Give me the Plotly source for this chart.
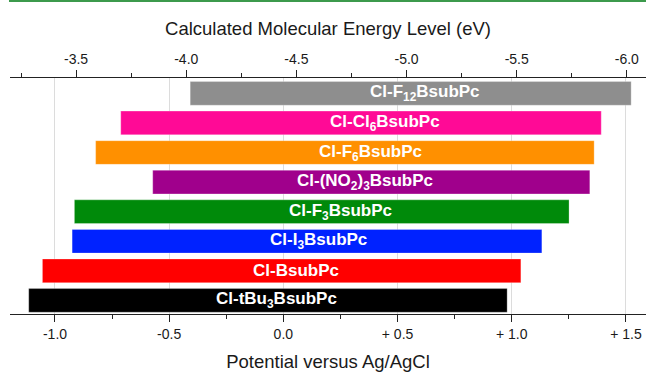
import plotly.graph_objects as go

# Compounds, listed bottom to top
compounds = ["Cl-tBu<sub>3</sub>BsubPc", "Cl-BsubPc", "Cl-I<sub>3</sub>BsubPc",
             "Cl-F<sub>3</sub>BsubPc", "Cl-(NO<sub>2</sub>)<sub>3</sub>BsubPc",
             "Cl-F<sub>6</sub>BsubPc", "Cl-Cl<sub>6</sub>BsubPc", "Cl-F<sub>12</sub>BsubPc"]
# Reduction (left end) and oxidation (right end) potentials, V vs Ag/AgCl
reduction = [-1.115, -1.055, -0.925, -0.915, -0.572, -0.822, -0.712, -0.408]
oxidation = [0.98, 1.04, 1.132, 1.251, 1.342, 1.361, 1.392, 1.523]
# Label anchor positions along the potential axis
label_pos = [-0.028, 0.055, 0.152, 0.252, 0.356, 0.381, 0.445, 0.621]
colors = ["#000000", "#ff0000", "#0022ff", "#008a0a", "#a0008c",
          "#ff9000", "#ff0a96", "#8e8e8e"]

pot_ticks = [-1.0, -0.5, 0.0, 0.5, 1.0, 1.5]
pot_labels = ["-1.0", "-0.5", "0.0", "+ 0.5", "+ 1.0", "+ 1.5"]
pot_minor = [-0.75, -0.25, 0.25, 0.75, 1.25]
energy_ticks = [-3.5, -4.0, -4.5, -5.0, -5.5, -6.0]
energy_labels = ["-3.5", "-4.0", "-4.5", "-5.0", "-5.5", "-6.0"]
energy_minor = [-3.25, -3.75, -4.25, -4.75, -5.25, -5.75]

ypos = list(range(len(compounds)))
widths = [o - r for o, r in zip(oxidation, reduction)]

fig = go.Figure()
fig.add_trace(go.Bar(
    y=ypos, x=widths, base=reduction, orientation="h",
    marker=dict(color=colors, line=dict(color="rgba(255,255,255,0.35)", width=0.8)),
    width=0.8, showlegend=False, hoverinfo="skip",
))
# invisible trace so the energy axis on top is drawn
fig.add_trace(go.Scatter(x=[-3.5, -6.0], y=[0, 0], xaxis="x2", mode="markers",
                         marker=dict(opacity=0), showlegend=False, hoverinfo="skip"))

for y, txt, xp in zip(ypos, compounds, label_pos):
    fig.add_annotation(x=xp, y=y, xref="x", yref="y", text=txt, showarrow=False,
                       font=dict(family="Liberation Sans, Arial", size=17, color="white",
                                 weight="bold"))

axis_font = dict(family="Liberation Sans, Arial", size=14, color="#1a1a1a")
title_font = dict(family="Liberation Sans, Arial", size=18.5, color="#1a1a1a")
fig.update_layout(
    width=646, height=373,
    margin=dict(l=10, r=0, t=78, b=59),
    paper_bgcolor="white", plot_bgcolor="white",
    xaxis=dict(
        range=[-1.197, 1.588], tickvals=pot_ticks, ticktext=pot_labels,
        ticks="outside", ticklen=7, tickwidth=1.3, tickcolor="#222",
        showline=True, linecolor="#222", linewidth=1.3,
        showgrid=True, gridcolor="#dcdcdc", gridwidth=1, zeroline=False,
        minor=dict(tickvals=pot_minor, ticks="outside", ticklen=4,
                   tickcolor="#222", showgrid=False),
        tickfont=axis_font,
        title=dict(text="Potential versus Ag/AgCl", standoff=14, font=title_font),
    ),
    xaxis2=dict(
        overlaying="x", side="top", range=[-3.2, -6.087],
        tickvals=energy_ticks, ticktext=energy_labels,
        ticks="outside", ticklen=7, tickwidth=1.3, tickcolor="#222",
        showline=True, linecolor="#222", linewidth=1.3,
        showgrid=False, zeroline=False,
        minor=dict(tickvals=energy_minor, ticks="outside", ticklen=4,
                   tickcolor="#222", showgrid=False),
        tickfont=axis_font,
        title=dict(text="Calculated Molecular Energy Level (eV)", standoff=10,
                   font=title_font),
    ),
    yaxis=dict(range=[-0.46, 7.52], showticklabels=False, showgrid=False,
               zeroline=False, showline=False, ticks=""),
    bargap=0.2,
)
# thin green rule along the top edge
fig.add_shape(type="line", xref="paper", yref="paper", x0=-0.0016, x1=1.0,
              y0=1.328, y1=1.328, line=dict(color="#3c9a4c", width=3))

fig.write_html("out.html")
